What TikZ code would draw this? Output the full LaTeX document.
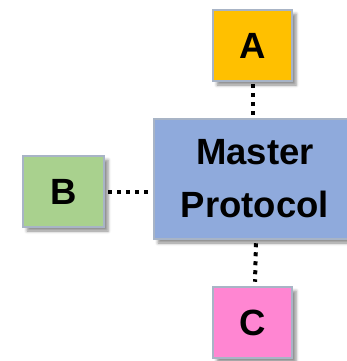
\documentclass[tikz,border=0pt]{standalone}
\usepackage{fontspec}
\setmainfont{Liberation Sans}
\usetikzlibrary{shadows.blur}
\definecolor{bordc}{HTML}{A8B4C6}
\definecolor{colA}{HTML}{FFC000}
\definecolor{colB}{HTML}{A9D18E}
\definecolor{colC}{HTML}{FF86D2}
\definecolor{colM}{HTML}{8FAADC}
\tikzset{
  boxstyle/.style={draw=bordc, line width=2.5pt, inner sep=0pt,
    font=\bfseries\fontsize{36.5}{53}\selectfont, text=black,
    blur shadow={shadow xshift=4pt, shadow yshift=-4pt, shadow blur radius=3pt, shadow opacity=45}},
  dotline/.style={line width=4pt, dash pattern=on 4pt off 5pt, black}
}
\begin{document}
\begin{tikzpicture}[x=1pt,y=-1pt]
\useasboundingbox (0,0) rectangle (347,361);
\begin{scope}
\clip (0,0) rectangle (347,361);
\node[boxstyle, fill=colM, minimum width=202pt, minimum height=120pt, align=center] (M) at (255,179) {Master\\Protocol};
\node[boxstyle, fill=colA, minimum width=79pt, minimum height=71pt] (A) at (252.5,45.5) {A};
\node[boxstyle, fill=colB, minimum width=81pt, minimum height=71pt] (B) at (63.5,191.5) {B};
\node[boxstyle, fill=colC, minimum width=79pt, minimum height=71pt] (C) at (252.5,322.5) {C};
\draw[dotline] ([yshift=-2pt]A.south) -- ([yshift=2pt]A.south |- M.north);
\draw[dotline] ([xshift=3pt]B.east) -- ([xshift=-3pt]B.east -| M.west);
\draw[dotline] ([xshift=1pt, yshift=-3pt]M.south) -- ([yshift=4pt]C.north -| M.south);
\end{scope}
\end{tikzpicture}
\end{document}
